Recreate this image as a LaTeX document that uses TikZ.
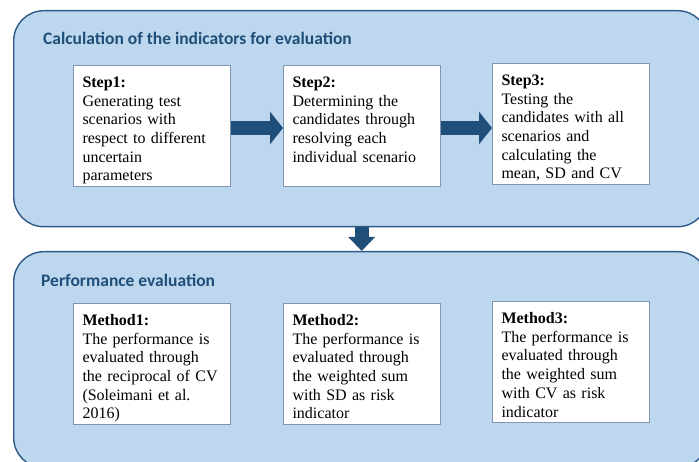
\documentclass[tikz,border=0pt]{standalone}
\usepackage{fontspec}
\setmainfont{Liberation Serif}
\newfontfamily\headfont{Carlito}
\usepackage{xcolor}
\usepackage{tikz}
\usetikzlibrary{arrows.meta}

\definecolor{panelfill}{HTML}{BDD7EE}
\definecolor{paneledge}{HTML}{2E5A88}
\definecolor{darkblue}{HTML}{1F4E79}
\definecolor{boxedge}{HTML}{8096B4}

\begin{document}
\begin{tikzpicture}[x=1pt, y=-1pt,
                panel/.style = {draw=paneledge, line width=1.4pt, fill=panelfill, rounded corners=30pt,
                                minimum width=694pt, minimum height=216pt, anchor=north west, inner sep=0pt},
                heading/.style = {anchor=base west, inner sep=0pt, text=darkblue,
                                  font=\headfont\bfseries\fontsize{17.5}{21}\selectfont},
                stepbox/.style = {draw=boxedge, line width=1pt, fill=white, anchor=north west, align=left,
                                  text width=139pt, inner xsep=9pt, inner ysep=6pt,
                                  text height=16pt, text depth=93pt, font=\fontsize{16}{18.7}\selectfont},
                blockarrow/.style = {draw=darkblue, line width=14pt, -{Triangle[width=32pt, length=13pt]}},
                downarrow/.style = {blockarrow, -{Triangle[width=26pt, length=14pt]}}]
                \useasboundingbox (0,0) rectangle (699,462);
                % the two panels
                \node[panel] (calcpanel) at (13,10) {};
                \node[panel] (perfpanel) at (13,251) {};
                \node[heading] (calctitle) at (43,45) {Calculation of the indicators for evaluation};
                \node[heading] (perftitle) at (41,287) {Performance evaluation};
                % steps
                \node[stepbox] (step1) at (73,65) {\textbf{Step1:}\\ Generating test\\ scenarios with\\ respect to different\\ uncertain\\ parameters};
                \node[stepbox] (step2) at (283,65) {\textbf{Step2:}\\ Determining the\\ candidates through\\ resolving each\\ individual scenario};
                \node[stepbox] (step3) at (492,63) {\textbf{Step3:}\\ Testing the\\ candidates with all\\ scenarios and\\ calculating the\\ mean, SD and CV};
                \coordinate (a1) at ([yshift=-2pt]step1.east);
                \coordinate (a2) at ([yshift=-2pt]step2.east);
                \draw[blockarrow] (a1) -- (a1 -| step2.west);
                \draw[blockarrow] (a2) -- (a2 -| step3.west);
                \draw[downarrow] ([xshift=1pt]calcpanel.south) -- ([xshift=1pt]perfpanel.north);
                % methods
                \node[stepbox] (method1) at (73,303) {\textbf{Method1:}\\ The performance is\\ evaluated through\\ the reciprocal of CV\\ (Soleimani et al.\\ 2016)};
                \node[stepbox] (method2) at (283,303) {\textbf{Method2:}\\ The performance is\\ evaluated through\\ the weighted sum\\ with SD as risk\\ indicator};
                \node[stepbox] (method3) at (492,301) {\textbf{Method3:}\\ The performance is\\ evaluated through\\ the weighted sum\\ with CV as risk\\ indicator};
\end{tikzpicture}
\end{document}
